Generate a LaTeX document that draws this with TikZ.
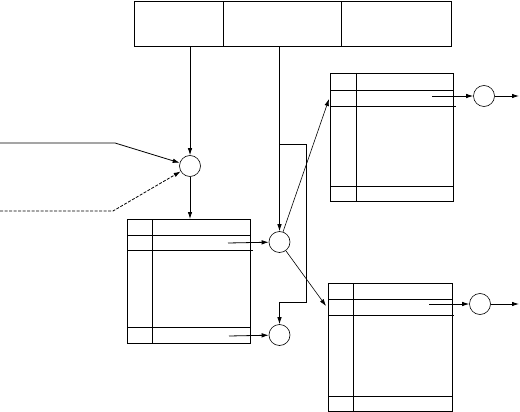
\documentclass[tikz,border=0pt]{standalone}
\usetikzlibrary{arrows.meta,calc}
\tikzset{
  every path/.style={line width=0.8pt},
  arr/.style={-{Latex[length=7pt,width=4.5pt]}},
  cell/.style={draw,line width=0.8pt,rectangle,inner sep=0pt,anchor=north west},
  ring/.style={draw,circle,minimum size=21pt,inner sep=0pt,line width=0.6pt},
}
\begin{document}
\begin{tikzpicture}[x=1pt,y=-1pt]
\useasboundingbox (0,0) rectangle (520,412);
% top box of three cells
\node[cell,minimum width=89pt,minimum height=45pt] (t1) at (134,1) {};
\node[cell,minimum width=118pt,minimum height=45pt] (t2) at (223,1) {};
\node[cell,minimum width=110pt,minimum height=45pt] (t3) at (341,1) {};
% circles
\node[ring,minimum size=21pt] (c1) at (190,166) {};
\node[ring] (c2) at (279.5,242) {};
\node[ring] (c3) at (279.5,335) {};
\node[ring] (c4) at (484,96) {};
\node[ring] (c5) at (480,304) {};
% tables
\node[cell,minimum width=123pt,minimum height=124pt] (L) at (127,219) {};
\node[cell,minimum width=123pt,minimum height=128pt] (R1) at (330,73) {};
\node[cell,minimum width=124pt,minimum height=128pt] (R2) at (328,283) {};
% inner lines of L
\draw ($(L.north west)+(25,0)$) -- ($(L.south west)+(25,0)$);
\draw ($(L.north west)+(0,16)$) -- ($(L.north east)+(0,16)$);
\draw ($(L.north west)+(0,31)$) -- ($(L.north east)+(2,31)$);
\draw ($(L.south west)+(0,-16)$) -- ($(L.south east)+(0,-16)$);
% inner lines of R1
\draw ($(R1.north west)+(26,0)$) -- ($(R1.south west)+(26,0)$);
\draw ($(R1.north west)+(0,17)$) -- ($(R1.north east)+(0,17)$);
\draw ($(R1.north west)+(0,33)$) -- ($(R1.north east)+(2,33)$);
\draw ($(R1.south west)+(0,-15)$) -- ($(R1.south east)+(0,-15)$);
% inner lines of R2
\draw ($(R2.north west)+(25,0)$) -- ($(R2.south west)+(25,0)$);
\draw ($(R2.north west)+(0,16)$) -- ($(R2.north east)+(0,16)$);
\draw ($(R2.north west)+(0,32)$) -- ($(R2.north east)+(1,32)$);
\draw ($(R2.south west)+(0,-15)$) -- ($(R2.south east)+(0,-15)$);
% inputs on the left
\coordinate (i1) at (0,143);
\coordinate (i1b) at (115,143);
\coordinate (i2) at (0,211);
\coordinate (i2b) at (113,211);
\draw[arr] (i1) -- (i1b) -- (c1);
\draw[arr,dash pattern=on 3pt off 1.5pt] (i2) -- (i2b) -- (c1);
% from top box
\draw[arr] (c1 |- t1.south) -- (c1);
\draw[arr] (c2 |- t2.south) -- (c2);
\draw[arr] (c1) -- (c1 |- L.north);
% loop branch
\coordinate (j1) at (279.5,144);
\coordinate (j2) at (306,302);
\draw[arr] (j1) -| (j2) -| (c3);
% feeds from L
\coordinate (Lo1) at (228,243);
\coordinate (Lo2) at (229,336);
\draw[arr] (Lo1) -- (c2);
\draw[arr] (Lo2) -- (c3);
% c2 to right tables
\coordinate (a1) at (329,99);
\coordinate (a2) at (326,306);
\draw[arr,line width=0.6pt] (c2) -- (a1);
\draw[arr,line width=0.6pt] (c2) -- (a2);
% right tables to circles and out
\coordinate (r1o) at (432,96);
\coordinate (r2o) at (429,304);
\coordinate (o1) at (519,96);
\coordinate (o2) at (519,304);
\draw[arr] (r1o) -- (c4);
\draw[arr] (c4) -- (o1);
\draw[arr] (r2o) -- (c5);
\draw[arr] (c5) -- (o2);
\end{tikzpicture}
\end{document}
